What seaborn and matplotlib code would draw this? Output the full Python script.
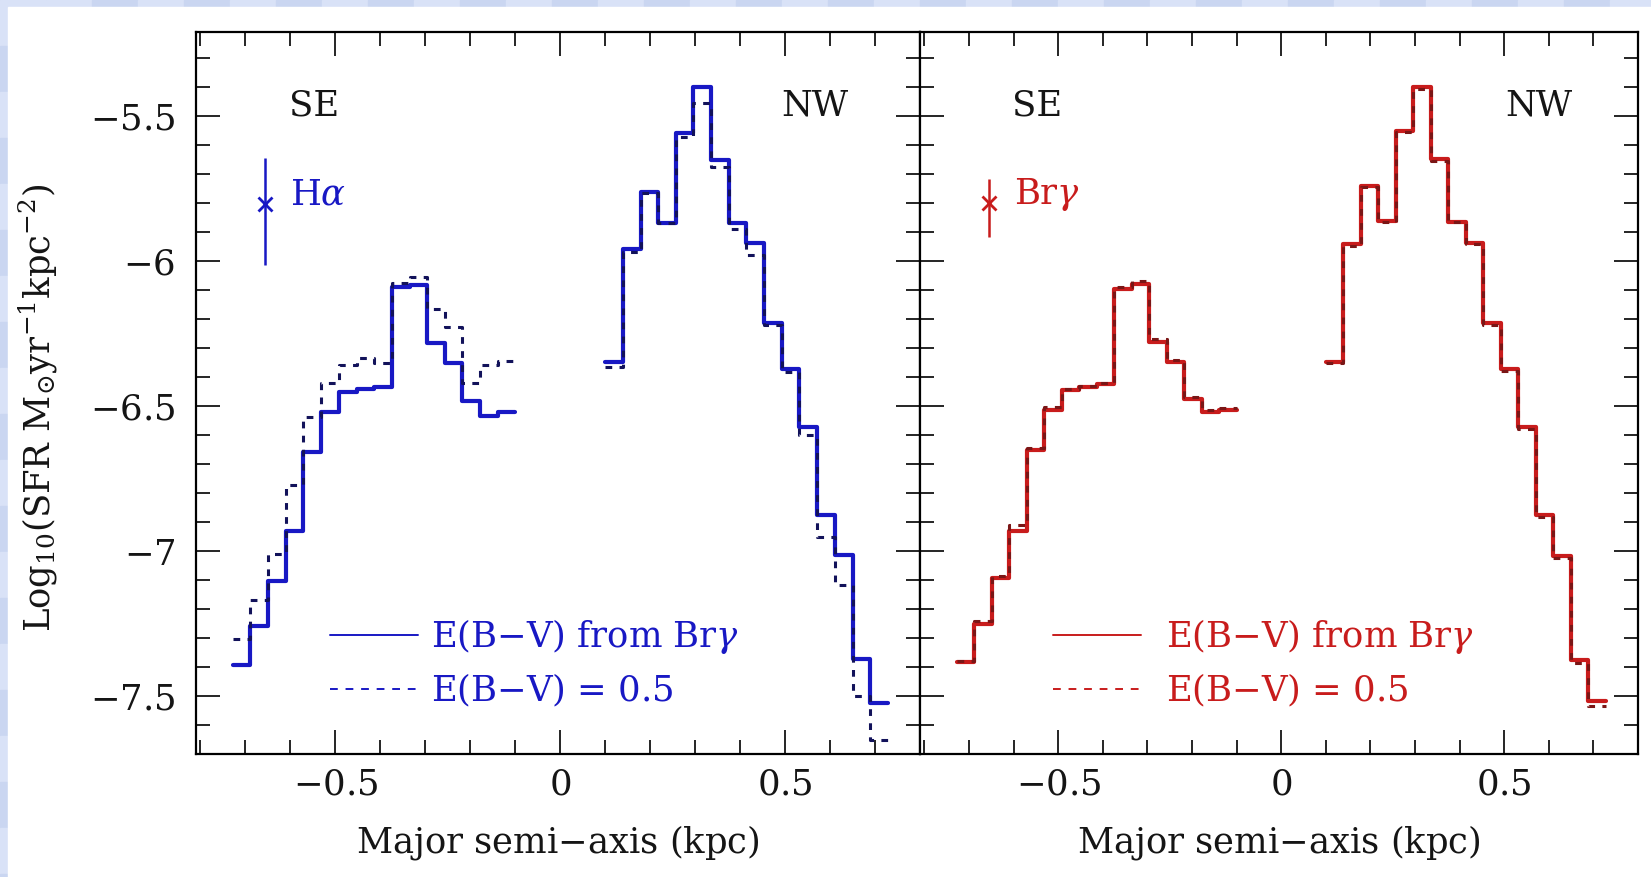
import numpy as np
import pandas as pd
import seaborn as sns
import matplotlib
matplotlib.use("Agg")
import matplotlib.pyplot as plt
from matplotlib.ticker import MultipleLocator, FuncFormatter
from matplotlib.patches import Rectangle
from matplotlib.lines import Line2D

# ---------------- data ----------------
se_edges = [-0.728, -0.689, -0.649, -0.610, -0.571, -0.532, -0.492, -0.453, -0.414,
            -0.375, -0.335, -0.296, -0.257, -0.218, -0.178, -0.139, -0.100]
nw_edges = [0.100, 0.139, 0.179, 0.218, 0.257, 0.296, 0.336, 0.375, 0.414,
            0.453, 0.493, 0.532, 0.571, 0.610, 0.650, 0.689, 0.728]

ha_se_brg = [-7.394, -7.257, -7.102, -6.932, -6.660, -6.522, -6.450, -6.442,
             -6.433, -6.090, -6.082, -6.281, -6.352, -6.481, -6.534, -6.522]
ha_se_05 = [-7.303, -7.170, -7.010, -6.772, -6.538, -6.419, -6.358, -6.335,
            -6.350, -6.075, -6.054, -6.166, -6.226, -6.419, -6.358, -6.343]
ha_nw_brg = [-6.347, -5.959, -5.761, -5.868, -5.557, -5.401, -5.652, -5.870,
             -5.937, -6.214, -6.372, -6.571, -6.877, -7.013, -7.372, -7.524]
ha_nw_05 = [-6.364, -5.968, -5.765, -5.870, -5.571, -5.454, -5.675, -5.890,
            -5.979, -6.220, -6.381, -6.599, -6.950, -7.116, -7.501, -7.650]

brg_se_brg = [-7.383, -7.250, -7.093, -6.930, -6.651, -6.513, -6.446, -6.436,
              -6.425, -6.096, -6.080, -6.278, -6.347, -6.476, -6.522, -6.513]
brg_se_05 = [-7.378, -7.240, -7.085, -6.909, -6.645, -6.505, -6.440, -6.430,
             -6.420, -6.088, -6.070, -6.270, -6.340, -6.470, -6.515, -6.507]
brg_nw_brg = [-6.347, -5.941, -5.741, -5.862, -5.552, -5.401, -5.649, -5.864,
              -5.937, -6.214, -6.373, -6.571, -6.877, -7.016, -7.375, -7.518]
brg_nw_05 = [-6.352, -5.947, -5.743, -5.866, -5.556, -5.405, -5.655, -5.866,
             -5.941, -6.219, -6.380, -6.580, -6.884, -7.024, -7.385, -7.535]

# representative error bars (x, y, lower, upper)
err_ha = [-0.656, -5.803, 0.210, 0.158]
err_brg = [-0.656, -5.800, 0.117, 0.083]

x_ticks = [-0.5, 0, 0.5]
y_ticks = [-5.5, -6, -6.5, -7, -7.5]

# ---------------- style ----------------
sns.set_theme(style="white")
plt.rcParams.update({
    "font.family": ["DejaVu Serif"],
    "mathtext.fontset": "dejavuserif",
    "axes.formatter.use_mathtext": True,
    "axes.unicode_minus": True,
})

BLUE = "#1818c4"
BLUE_D = "#12125a"
RED = "#c81c1c"
RED_D = "#7a1616"
FS = 25.5
TXT = "#151515"

W, H = 1651, 877
fig = plt.figure(figsize=(W / 100, H / 100), dpi=100, facecolor="#d3ddf4")

# checker background (light blue slide pattern) + white sheet
tile = 46
shades = ["#cad6f1", "#d9e2f7"]
for i in range(0, W // tile + 2):
    fig.patches.append(Rectangle((i * tile / W, 1 - tile / H), tile / W, tile / H,
                                 transform=fig.transFigure, color=shades[i % 2], zorder=-3))
for j in range(0, H // tile + 2):
    fig.patches.append(Rectangle((0, 1 - (j + 1) * tile / H), tile / W, tile / H,
                                 transform=fig.transFigure, color=shades[(j + 1) % 2], zorder=-3))
fig.patches.append(Rectangle((8 / W, 0), 1, 1 - 7 / H, transform=fig.transFigure,
                             color="white", zorder=-2))

axL = fig.add_axes([196 / W, 1 - 754 / H, (920 - 196) / W, (754 - 32) / H])
axR = fig.add_axes([920 / W, 1 - 754 / H, (1638 - 920) / W, (754 - 32) / H])


def step_df(edges, vals):
    return pd.DataFrame({"x": edges, "y": list(vals) + [vals[-1]]})


def draw(ax, se_a, se_b, nw_a, nw_b, c_solid, c_dot):
    for edges, vals in ((se_edges, se_a), (nw_edges, nw_a)):
        sns.lineplot(data=step_df(edges, vals), x="x", y="y", ax=ax, color=c_solid,
                     lw=3.0, drawstyle="steps-post", estimator=None, sort=False,
                     legend=False, zorder=3)
    for edges, vals in ((se_edges, se_b), (nw_edges, nw_b)):
        sns.lineplot(data=step_df(edges, vals), x="x", y="y", ax=ax, color=c_dot,
                     lw=2.2, drawstyle="steps-post", estimator=None, sort=False,
                     legend=False, linestyle=(0, (2.2, 2.4)), zorder=4)


draw(axL, ha_se_brg, ha_se_05, ha_nw_brg, ha_nw_05, BLUE, BLUE_D)
draw(axR, brg_se_brg, brg_se_05, brg_nw_brg, brg_nw_05, RED, RED_D)

fmt = FuncFormatter(lambda v, p: f"${v:g}$")
for ax in (axL, axR):
    ax.set_xlim(-0.81, 0.80)
    ax.set_ylim(-7.7, -5.21)
    ax.set_xticks(x_ticks)
    ax.set_yticks(y_ticks)
    ax.xaxis.set_minor_locator(MultipleLocator(0.1))
    ax.yaxis.set_minor_locator(MultipleLocator(0.1))
    ax.xaxis.set_major_formatter(fmt)
    ax.yaxis.set_major_formatter(fmt)
    ax.tick_params(which="both", direction="in", top=True, bottom=True, left=True,
                   right=True, color="black", width=1.2, labelsize=FS,
                   labelcolor=TXT)
    ax.tick_params(which="major", length=17)
    ax.tick_params(which="minor", length=10)
    ax.tick_params(axis="x", pad=10)
    ax.tick_params(axis="y", pad=15)
    for s in ax.spines.values():
        s.set_color("black")
        s.set_linewidth(1.6)
    ax.set_facecolor("white")
    ax.set_xlabel(r"Major semi$-$axis (kpc)", fontsize=FS, color=TXT, labelpad=15)
    ax.set_ylabel("")
    ax.text(-0.547, -5.463, "SE", fontsize=FS, ha="center", va="center", color=TXT)

axL.text(0.565, -5.463, "NW", fontsize=FS, ha="center", va="center", color=TXT)
axR.text(0.578, -5.463, "NW", fontsize=FS, ha="center", va="center", color=TXT)
axR.tick_params(labelleft=False)
axL.set_ylabel(r"Log$_{10}$(SFR M$_{\odot}$yr$^{-1}$kpc$^{-2}$)", fontsize=FS,
               color=TXT)
axL.yaxis.set_label_coords(-0.188, 0.48)

# representative error bars
axL.errorbar([err_ha[0]], [err_ha[1]], yerr=[[err_ha[2]], [err_ha[3]]], fmt="x",
             color=BLUE, ms=10, mew=2, elinewidth=1.8, capsize=0)
axL.text(-0.60, -5.772, r"H$\alpha$", fontsize=FS, color=BLUE, ha="left", va="center")
axR.errorbar([err_brg[0]], [err_brg[1]], yerr=[[err_brg[2]], [err_brg[3]]], fmt="x",
             color=RED, ms=10, mew=2, elinewidth=1.8, capsize=0)
axR.text(-0.60, -5.772, r"Br$\gamma$", fontsize=FS, color=RED, ha="left", va="center")

# legends
labels = [r"E(B$-$V) from Br$\gamma$", r"E(B$-$V) = 0.5"]
for ax, c, tpad in ((axL, BLUE, 0.35), (axR, RED, 0.7)):
    handles = [Line2D([], [], color=c, lw=1.4),
               Line2D([], [], color=c, lw=1.4, linestyle=(0, (4, 4)))]
    ax.legend(handles, labels, loc="lower left", bbox_to_anchor=(0.185, 0.062),
              frameon=False, fontsize=FS, labelcolor=c, handlelength=2.5,
              handletextpad=tpad, labelspacing=0.45, borderpad=0, borderaxespad=0)

fig.savefig("out.png", dpi=100, facecolor=fig.get_facecolor())
